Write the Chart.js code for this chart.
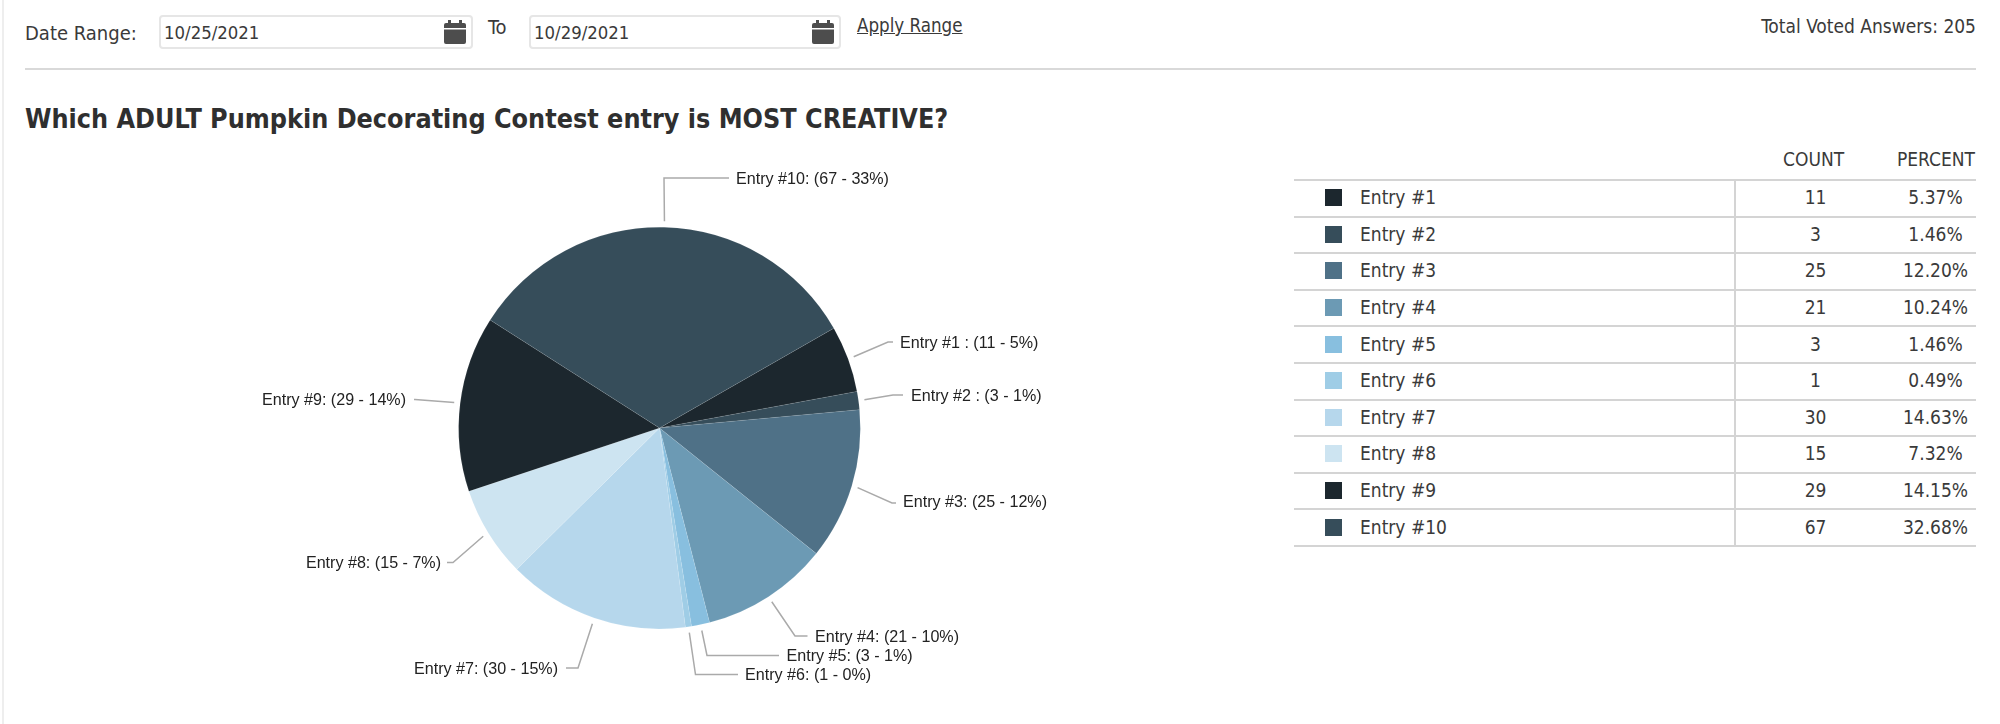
<!DOCTYPE html>
<html>
<head>
<meta charset="utf-8">
<title>Pumpkin Decorating Contest</title>
<script src="https://cdn.jsdelivr.net/npm/chart.js@4"></script>
<style>
  html, body { margin: 0; padding: 0; background: #fff; }
  body { width: 2000px; height: 724px; position: relative; overflow: hidden; color: #3a3a3a;
         font-family: "DejaVu Sans Condensed", "DejaVu Sans", sans-serif; font-stretch: condensed; }
  .abs { position: absolute; white-space: nowrap; line-height: 1; }
  #page-edge { position: absolute; left: 2px; top: 0; width: 2px; height: 724px; background: #eeeeee; }
  #header-rule { position: absolute; left: 25px; top: 68px; width: 1951px; height: 2px; background: #d9d9d9; }
  .date-box { position: absolute; top: 15px; height: 30px; box-sizing: content-box; border: 2px solid #e6e6e6; border-radius: 4px; }
  .date-box span { position: absolute; left: 3px; top: 7px; font-size: 18.4px; line-height: 1; }
  .date-box svg { position: absolute; top: 3px; right: 5px; }
  #title { left: 25px; top: 106px; font-size: 26.7px; font-weight: bold; color: #2f2f2f; }
  #chart { position: absolute; left: 0; top: 0; }
  #stats { position: absolute; left: 1294px; top: 179px; width: 682px; border-collapse: collapse; table-layout: fixed; font-size: 19px; }
  #stats td { height: 36.6px; padding: 0 0 2px; border-top: 2px solid #d4d4d4; box-sizing: border-box; text-align: center; }
  #stats tr:last-child td { border-bottom: 2px solid #d4d4d4; }
  #stats td.name { text-align: left; border-right: 2px solid #d4d4d4; }
  #stats i { display: inline-block; width: 17px; height: 17px; margin: 0 18px 0 31px; vertical-align: -2px; }
</style>
</head>
<body>
<div id="page-edge"></div>
<div class="abs" style="left:25px;top:23px;font-size:20px">Date Range:</div>
<div class="date-box" style="left:159px;width:310px"><span>10/25/2021</span>
  <svg width="22" height="24" viewBox="0 0 22 24"><path fill="#4d4d4d" d="M4 0h3v3h8V0h3v3h2a2 2 0 0 1 2 2v3H0V5a2 2 0 0 1 2-2h2zM0 9.500h22V22a2 2 0 0 1-2 2H2a2 2 0 0 1-2-2z"/></svg></div>
<div class="abs" style="left:488px;top:17px;font-size:20px">To</div>
<div class="date-box" style="left:529px;width:308px"><span>10/29/2021</span>
  <svg width="22" height="24" viewBox="0 0 22 24"><path fill="#4d4d4d" d="M4 0h3v3h8V0h3v3h2a2 2 0 0 1 2 2v3H0V5a2 2 0 0 1 2-2h2zM0 9.500h22V22a2 2 0 0 1-2 2H2a2 2 0 0 1-2-2z"/></svg></div>
<div class="abs" style="left:857px;top:17px;font-size:18.6px;text-decoration:underline">Apply Range</div>
<div class="abs" style="right:24px;top:17px;font-size:19px">Total Voted Answers: 205</div>
<div id="header-rule"></div>
<div class="abs" id="title">Which ADULT Pumpkin Decorating Contest entry is MOST CREATIVE?</div>
<canvas id="chart" width="1280" height="724"></canvas>
<div class="abs" style="left:1783px;top:150px;font-size:19px">COUNT</div>
<div class="abs" style="left:1897px;top:150px;font-size:19px">PERCENT</div>
<table id="stats"><colgroup><col style="width:441px"><col style="width:160px"><col></colgroup><tbody></tbody></table>

<script>
const categories = ["Entry #1", "Entry #2", "Entry #3", "Entry #4", "Entry #5", "Entry #6", "Entry #7", "Entry #8", "Entry #9", "Entry #10"];
const counts = [11, 3, 25, 21, 3, 1, 30, 15, 29, 67];
const percents = ["5.37%", "1.46%", "12.20%", "10.24%", "1.46%", "0.49%", "14.63%", "7.32%", "14.15%", "32.68%"];
const pieLabels = [
  "Entry #1 : (11 - 5%)", "Entry #2 : (3 - 1%)", "Entry #3: (25 - 12%)", "Entry #4: (21 - 10%)", "Entry #5: (3 - 1%)",
  "Entry #6: (1 - 0%)", "Entry #7: (30 - 15%)", "Entry #8: (15 - 7%)", "Entry #9: (29 - 14%)", "Entry #10: (67 - 33%)",
];
const colors = ["#1c272e", "#364d5a", "#4f7187", "#6c9ab4", "#88bfdf", "#9fcde6", "#b6d7ec", "#cde4f1", "#1c272e", "#364d5a"];

// where each callout bends, ends and where its text sits
const elbowX = [888, 893, 892, 795, 707, 695.5, 578, 453, 415, 664];
const elbowY = [342, 395, 503, 636, 655.5, 674.5, 668, 562.5, 399.5, 178];
const endX = [893, 903, 896, 807.5, 779, 738, 566, 447, 414, 729];
const textX = [900, 911, 903, 815, 786.5, 745, 558, 441, 406, 736];
const textY = [344, 397, 503, 638, 656.5, 676, 670, 564, 401, 180];

const tbody = document.querySelector("#stats tbody");
categories.forEach((name, i) => {
  const row = document.createElement("tr");
  row.innerHTML = `<td class="name"><i style="background:${colors[i]}"></i>${name}</td><td>${counts[i]}</td><td>${percents[i]}</td>`;
  tbody.appendChild(row);
});

const calloutPlugin = {
  id: "callouts",
  afterDatasetsDraw(chart) {
    const { ctx } = chart;
    chart.getDatasetMeta(0).data.forEach((arc, i) => {
      const mid = (arc.startAngle + arc.endAngle) / 2;
      const r = arc.outerRadius + 6;
      ctx.save();
      ctx.strokeStyle = "#aaaaaa";
      ctx.lineWidth = 1.5;
      ctx.beginPath();
      ctx.moveTo(arc.x + Math.cos(mid) * r, arc.y + Math.sin(mid) * r);
      ctx.lineTo(elbowX[i], elbowY[i]);
      ctx.lineTo(endX[i], elbowY[i]);
      ctx.stroke();
      ctx.fillStyle = "#222222";
      ctx.font = '16.1px "Liberation Sans", Arial, sans-serif';
      ctx.textBaseline = "middle";
      ctx.textAlign = textX[i] < arc.x && elbowX[i] < arc.x ? "right" : "left";
      ctx.fillText(pieLabels[i], textX[i], textY[i]);
      ctx.restore();
    });
  },
};

new Chart(document.getElementById("chart"), {
  type: "pie",
  data: {
    labels: categories,
    datasets: [
      {
        data: counts,
        backgroundColor: colors,
        borderColor: "rgba(255,255,255,0.3)",
        borderWidth: 0.3,
      },
    ],
  },
  options: {
    responsive: false,
    animation: false,
    rotation: 60.2,
    layout: { padding: { left: 458.5, right: 419.5, top: 227, bottom: 95 } },
    plugins: { legend: { display: false }, tooltip: { enabled: false } },
  },
  plugins: [calloutPlugin],
});
</script>
</body>
</html>
